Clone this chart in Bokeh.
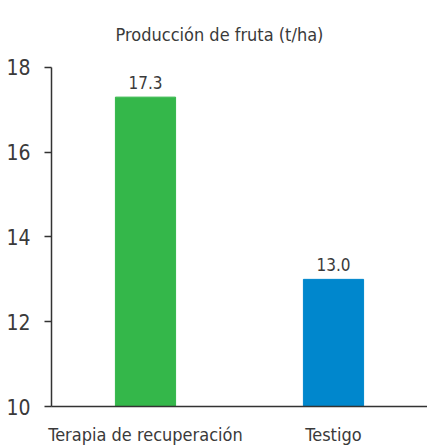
from bokeh.plotting import figure
from bokeh.models import ColumnDataSource, FactorRange, Range1d, FixedTicker, LabelSet, Label
from bokeh.core.properties import value
from bokeh.embed import file_html
from bokeh.resources import INLINE

categories = ["Terapia de recuperación", "Testigo"]
values = [17.3, 13.0]
colors = ["#34b74a", "#0087cd"]
labels = ["17.3", "13.0"]
y_ticks = [10, 12, 14, 16, 18]
title_text = "Producción de fruta (t/ha)"

FONT = "DejaVu Sans Condensed"
TXT = "#3a3a3a"

source = ColumnDataSource(dict(cat=categories, val=values, color=colors, lab=labels))

# frame extends to the top of the canvas so the title can sit inside it;
# the axis line itself is bounded to 10..18
p = figure(width=427, height=448, x_range=FactorRange(*categories, range_padding=0),
           y_range=Range1d(10, 19.58), output_backend="svg", toolbar_location=None,
           title=None,
           min_border_left=51, min_border_right=0, min_border_top=0, min_border_bottom=42)

p.vbar(x="cat", top="val", bottom=10, width=0.32, color="color", source=source)

p.add_layout(LabelSet(x="cat", y="val", text="lab", source=source, text_align="center",
                      text_baseline="bottom", y_offset=8, text_font=value(FONT),
                      text_font_size="17px", text_color=TXT))

# title placed relative to the plot frame (screen units: origin at frame bottom-left)
p.add_layout(Label(x=168, y=372, x_units="screen", y_units="screen", text=title_text,
                   text_align="center", text_baseline="alphabetic", text_font=FONT,
                   text_font_size="18px", text_color=TXT))

p.yaxis.ticker = FixedTicker(ticks=y_ticks)
p.yaxis.bounds = (10, 18)
p.yaxis.minor_tick_line_color = None
p.yaxis.major_tick_out = 7
p.yaxis.major_tick_in = 0
p.yaxis.major_label_standoff = 14
p.yaxis.axis_line_color = "#333333"
p.yaxis.axis_line_width = 1.5
p.yaxis.major_tick_line_color = "#333333"
p.yaxis.major_tick_line_width = 1.5
p.yaxis.major_label_text_font = FONT
p.yaxis.major_label_text_font_size = "21px"
p.yaxis.major_label_text_color = TXT

p.xaxis.major_tick_line_color = None
p.xaxis.minor_tick_line_color = None
p.xaxis.axis_line_color = "#333333"
p.xaxis.axis_line_width = 1.5
p.xaxis.major_label_standoff = 11
p.xaxis.major_label_text_font = FONT
p.xaxis.major_label_text_font_size = "18px"
p.xaxis.major_label_text_color = TXT

p.grid.grid_line_color = None
p.outline_line_color = None

open("out.html", "w").write(file_html(p, INLINE))
